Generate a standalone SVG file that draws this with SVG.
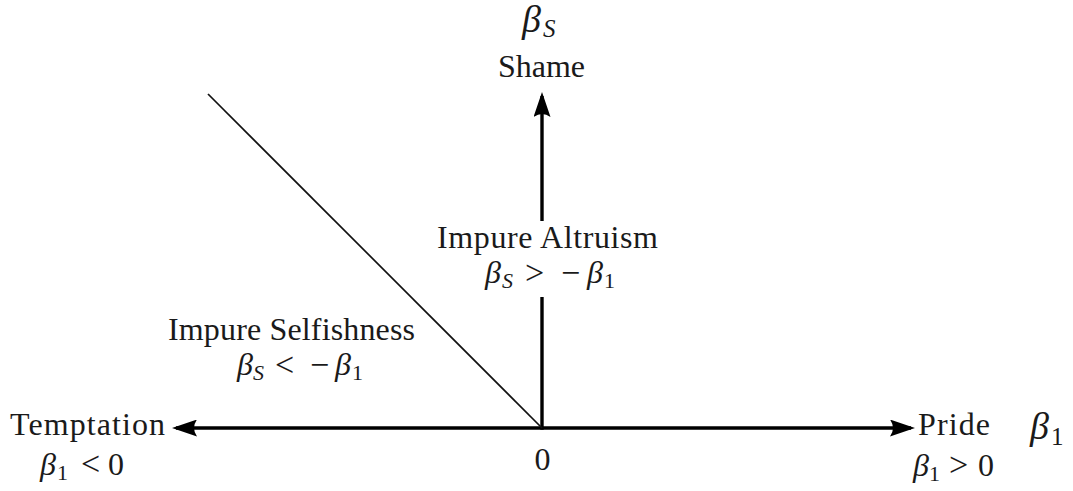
<svg xmlns="http://www.w3.org/2000/svg" width="1073" height="491" viewBox="0 0 1073 491">
  <style>
    .lbl { fill: #1a1a1a; font-size: 32px; }
    .it { font-style: italic; }
    .sub { font-size: 22px; }
    .rel { font-size: 34px; }
    .big { font-size: 38px; }
    .bigsub { font-size: 25px; }
    .axis { stroke: #000; stroke-width: 3.4; fill: none; }
    .diag { stroke: #111; stroke-width: 1.7; fill: none; }
  </style>
  <defs>
    <marker id="stealth" viewBox="0 0 25 17" refX="21" refY="8.5" markerWidth="25" markerHeight="17" markerUnits="userSpaceOnUse" orient="auto-start-reverse">
      <path d="M0,0 L25,8.5 L0,17 Q6,8.5 0,0 Z" fill="#000"/>
    </marker>
  </defs>
  <rect width="1073" height="491" fill="#fff"/>

  <g id="connectors">
    <line class="axis" x1="176" y1="428" x2="911" y2="428" marker-start="url(#stealth)" marker-end="url(#stealth)"/>
    <line class="axis" x1="542" y1="429.7" x2="542" y2="96" marker-end="url(#stealth)"/>
    <line class="diag" x1="208" y1="94" x2="542" y2="428"/>
  </g>

  <g font-family="Liberation Serif, serif" class="lbl">
  <g id="origin">
    <text x="542.5" y="470" text-anchor="middle">0</text>
  </g>

  <g id="shame">
    <text x="522" y="32" class="it big">β</text>
    <text x="543" y="37" class="it bigsub">S</text>
    <text x="498" y="77" textLength="87" lengthAdjust="spacing">Shame</text>
  </g>

  <g id="pride">
    <text x="918" y="435" textLength="72" lengthAdjust="spacing">Pride</text>
    <text x="1030" y="439" class="it big">β</text>
    <text x="1051" y="445" class="bigsub">1</text>
    <text y="476"><tspan x="913" class="it">β</tspan><tspan x="929" y="481" class="sub">1</tspan><tspan x="949" y="476" class="rel">&gt;</tspan><tspan x="978" y="476">0</tspan></text>
  </g>

  <g id="temptation">
    <text x="10" y="435" textLength="155" lengthAdjust="spacing">Temptation</text>
    <text y="475"><tspan x="40" class="it">β</tspan><tspan x="57" y="480" class="sub">1</tspan><tspan x="81" y="475" class="rel">&lt;</tspan><tspan x="108" y="475">0</tspan></text>
  </g>

  <g id="impure-altruism">
    <rect x="432" y="221" width="230" height="76" fill="#fff"/>
    <text x="437" y="248" textLength="221" lengthAdjust="spacing">Impure Altruism</text>
    <text y="284"><tspan x="485" y="283" class="it">β</tspan><tspan x="502" y="288" class="it sub">S</tspan><tspan x="525" y="284" class="rel">&gt;</tspan><tspan x="561" y="284" class="rel">−</tspan><tspan x="587" y="283" class="it">β</tspan><tspan x="604" y="288" class="sub">1</tspan></text>
  </g>

  <g id="impure-selfishness">
    <text x="168" y="340" textLength="247" lengthAdjust="spacing">Impure Selfishness</text>
    <text y="376"><tspan x="237" y="375" class="it">β</tspan><tspan x="253" y="380" class="it sub">S</tspan><tspan x="275" y="376" class="rel">&lt;</tspan><tspan x="310" y="376" class="rel">−</tspan><tspan x="335" y="375" class="it">β</tspan><tspan x="352" y="380" class="sub">1</tspan></text>
  </g>
  </g>
</svg>
